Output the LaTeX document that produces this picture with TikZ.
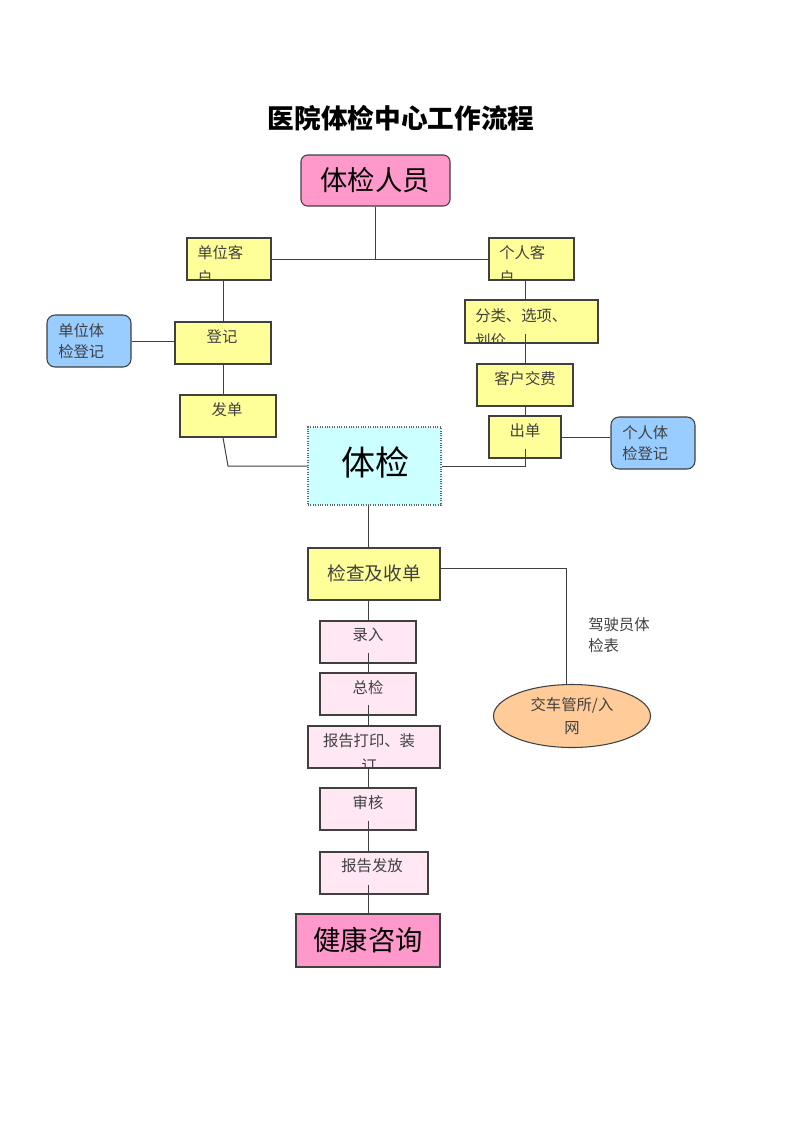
\documentclass[tikz,border=0pt]{standalone}
\usepackage{fontspec}
\setmainfont{Noto Sans CJK SC}
\usetikzlibrary{fit,shapes.geometric}
\definecolor{yel}{HTML}{FFFF99}
\definecolor{pinkb}{HTML}{FF99CC}
\definecolor{lpink}{HTML}{FFE8F4}
\definecolor{blueb}{HTML}{99CCFF}
\definecolor{cyanb}{HTML}{CCFFFF}
\definecolor{orab}{HTML}{FFCC99}
\definecolor{edge}{HTML}{404040}
\definecolor{txtc}{HTML}{404040}
\begin{document}
\begin{tikzpicture}[x=0.75pt,y=-0.75pt,
  ln/.style={draw=edge, line width=0.75pt},
  basebox/.style={draw=edge, line width=0.8pt, inner sep=0pt, rectangle},
  ybox/.style={basebox, fill=yel},
  pbox/.style={basebox, fill=lpink},
  bbox/.style={basebox, fill=blueb, rounded corners=6pt},
  bigp/.style={basebox, fill=pinkb},
  txt/.style={inner sep=0pt, text=txtc, font=\fontsize{11.5}{16}\selectfont, align=left},
  cliptxt/.style={txt, font=\fontsize{11.5}{19}\selectfont},
  ctxt/.style={txt, align=center}
]
\useasboundingbox (0,0) rectangle (800,1132);
\coordinate (mx) at (368,0);
\coordinate (rx) at (525,0);

% title
\node[inner sep=0pt, font=\fontsize{20}{24}\selectfont\bfseries] (title) at (401,118) {医院体检中心工作流程};

% boxes
\node[bigp, rounded corners=5pt, fit={(301,155) (450,206)}] (ry) {};
\node[inner sep=0pt, font=\fontsize{20.5}{24}\selectfont] (ryt) at (375,180) {体检人员};

\node[ybox, fit={(187,238) (271,280)}] (dwkh) {};
\node[ybox, fit={(489,238) (574,280)}] (grkh) {};
\node[ybox, fit={(175,322) (271,364)}] (dj) {};
\node[bbox, fit={(47,315) (131,367)}] (dwtj) {};
\node[ybox, fit={(180,395) (276,437)}] (fd) {};
\node[ybox, fit={(465,300) (598,343)}] (fl) {};
\node[ybox, fit={(477,364) (573,406)}] (khjf) {};
\node[ybox, fit={(489,416) (561,458)}] (cd) {};
\node[bbox, fit={(611,417) (695,469)}] (grtj) {};
\node[basebox, fill=cyanb, draw=black!60, densely dotted, fit={(308,427) (441,505)}] (tj) {};
\node[inner sep=0pt, font=\fontsize{25.5}{30}\selectfont] (tjt) at (375,462) {体检};

\node[ybox, fit={(308,548) (440,600)}] (jc) {};
\node[inner sep=0pt, text=txtc, font=\fontsize{14}{18}\selectfont] (jct) at (374,573) {检查及收单};
\node[pbox, fit={(320,621) (416,663)}] (lr) {};
\node[pbox, fit={(320,673) (416,715)}] (zj) {};
\node[pbox, fit={(308,726) (440,768)}] (bg) {};
\node[pbox, fit={(320,788) (416,830)}] (sh) {};
\node[pbox, fit={(320,852) (428,894)}] (ff) {};
\node[bigp, fit={(296,914) (440,967)}] (jk) {};
\node[inner sep=0pt, font=\fontsize{20.5}{24}\selectfont] (jkt) at (368,940) {健康咨询};

\node[ellipse, draw=edge, line width=0.8pt, fill=orab, inner sep=0pt,
      minimum width=117.75pt, minimum height=47.25pt] (jg) at (572,716) {};
\node[ctxt, font=\fontsize{11.5}{17}\selectfont] (jgt) at (572,716) {交车管所/入\\网};

% texts in boxes (clipped where the original clips)
\begin{scope}
\clip (187,238) rectangle (271,280);
\node[cliptxt, anchor=north west] (dwkht) at (197,245) {单位客\\户};
\end{scope}
\begin{scope}
\clip (489,238) rectangle (574,280);
\node[cliptxt, anchor=north west] (grkht) at (499,245) {个人客\\户};
\end{scope}
\begin{scope}
\clip (465,300) rectangle (598,343);
\node[cliptxt, anchor=north west] (flt) at (475,308) {分类、选项、\\划价};
\end{scope}
\begin{scope}
\clip (308,726) rectangle (440,768);
\node[cliptxt, anchor=north, align=center] (bgt) at (369,733) {报告打印、装\\订};
\end{scope}
\node[txt] (djt) at (222,337) {登记};
\node[txt] (fdt) at (227,410) {发单};
\node[txt] (khjft) at (525,379) {客户交费};
\node[txt] (cdt) at (525,431) {出单};
\node[txt, anchor=north west] (dwtjt) at (58,323) {单位体\\检登记};
\node[txt, anchor=north west] (grtjt) at (622,425) {个人体\\检登记};
\node[txt] (lrt) at (368,635) {录入};
\node[txt] (zjt) at (368,688) {总检};
\node[txt] (sht) at (368,803) {审核};
\node[txt] (fft) at (372,866) {报告发放};
\node[txt, anchor=north west] (jsy) at (588,617) {驾驶员体\\检表};

% connectors
\draw[ln] (ry.south) -- (ry.south |- dwkh.east);
\draw[ln] (dwkh.east) -- (grkh.west);
\draw[ln] (dj.north |- dwkh.south) -- (dj.north);
\draw[ln] (dwtj.east) -- (dwtj.east -| dj.west);
\draw[ln] (dj.south) -- (dj.south |- fd.north);
\coordinate (c1) at (228,466);
\draw[ln] (dj.south |- fd.south) -- (c1) -- (tj.west);

\draw[ln] (grkh.south -| rx) -- (fl.north -| rx);
\draw[ln] ([yshift=7.5pt]fl.south -| rx) -- (khjf.north);
\draw[ln] (khjf.south) -- (cd.north);
\coordinate (c2) at (525,466);
\draw[ln] ([yshift=7.5pt]cd.south) -- (c2) -- (tj.east);
\draw[ln] (cd.east) -- (cd.east -| grtj.west);

\draw[ln] (tj.south -| mx) -- (jc.north -| mx);
\coordinate (c3) at (566,568);
\draw[ln] (jc.east |- c3) -- (c3) -- (c3 |- jg.north);
\draw[ln] (jc.south -| mx) -- (lr.north -| mx);
\draw[ln] ([yshift=8pt]lr.south -| mx) -- (zj.north -| mx);
\draw[ln] ([yshift=8pt]zj.south -| mx) -- (bg.north -| mx);
\draw[ln] ([yshift=0pt]bg.south -| mx) -- (sh.north -| mx);
\draw[ln] ([yshift=7.5pt]sh.south -| mx) -- (ff.north -| mx);
\draw[ln] ([yshift=7.5pt]ff.south -| mx) -- (jk.north -| mx);
\end{tikzpicture}
\end{document}
